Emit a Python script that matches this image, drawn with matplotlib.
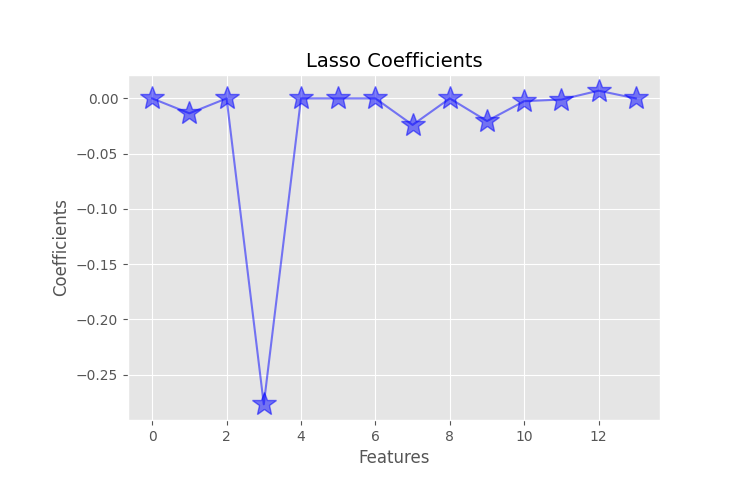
import matplotlib
matplotlib.use("Agg")
import matplotlib.pyplot as plt

plt.style.use("ggplot")

features = list(range(14))
coefs = [0.0, -0.0135, 0.0, -0.277, 0.0, 0.0, 0.0, -0.024, 0.0, -0.0205, -0.0025, -0.001, 0.007, 0.0]

fig = plt.figure(figsize=(7.56, 4.92), dpi=100)
ax = fig.add_axes([128 / 756, 1 - 420 / 492, (660 - 128) / 756, (420 - 75) / 492])

ax.plot(features, coefs, color="blue", alpha=0.5, marker="*", markersize=18, linestyle="-", linewidth=1.5)

ax.set_title("Lasso Coefficients", fontsize=14)
ax.set_xlabel("Features", fontsize=12)
ax.set_ylabel("Coefficients", fontsize=12)
ax.tick_params(labelsize=10)

fig.savefig("out.png", dpi=100)
